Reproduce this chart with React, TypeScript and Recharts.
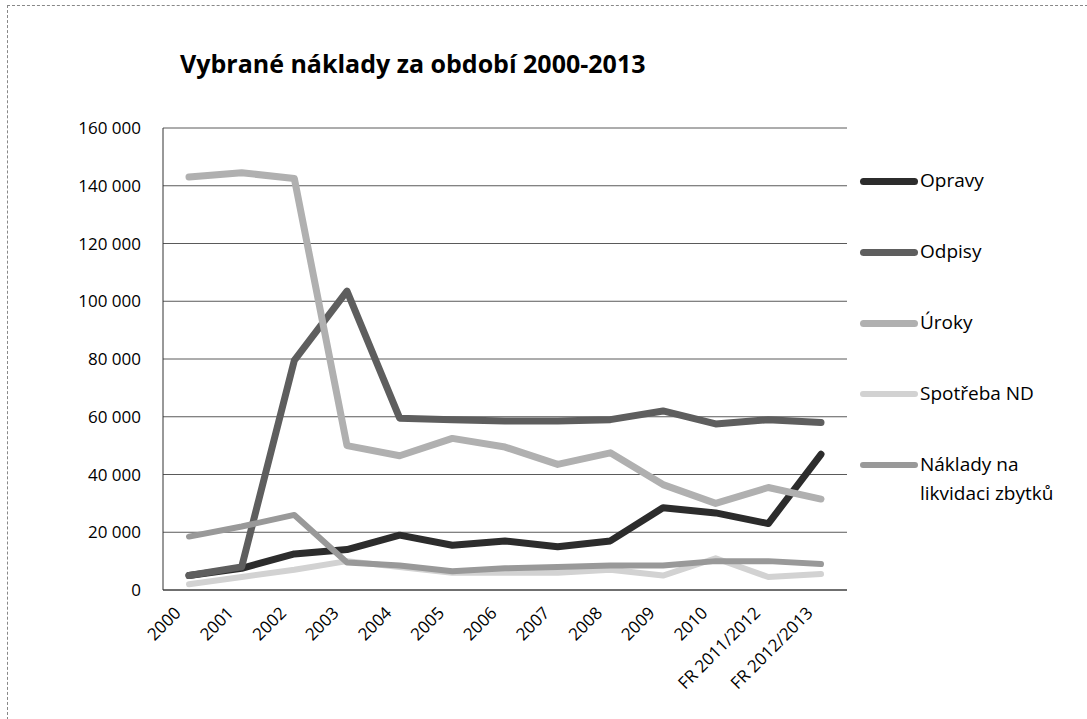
import { LineChart, Line, XAxis, YAxis, CartesianGrid, Legend } from "recharts";

const categories = [
  "2000", "2001", "2002", "2003", "2004", "2005", "2006",
  "2007", "2008", "2009", "2010", "FR 2011/2012", "FR 2012/2013",
];

// hodnoty
const opravy = [5000, 7500, 12500, 14000, 19000, 15500, 17000, 15000, 17000, 28500, 26700, 23000, 47000];
const odpisy = [5000, 8000, 79500, 103500, 59500, 59000, 58500, 58500, 59000, 62000, 57500, 59000, 58000];
const uroky = [143000, 144500, 142500, 50000, 46500, 52500, 49500, 43500, 47500, 36500, 30000, 35500, 31500];
const spotrebaND = [2000, 4500, 7000, 10000, 8000, 6000, 6000, 6000, 7000, 5000, 11000, 4500, 5500];
const nakladyLikvidace = [18500, 22000, 26000, 9500, 8500, 6500, 7500, 8000, 8500, 8500, 10000, 10000, 9000];

const yTicks = [0, 20000, 40000, 60000, 80000, 100000, 120000, 140000, 160000];

const series = [
  { key: "opravy", name: "Opravy", color: "#2c2c2c", width: 7 },
  { key: "odpisy", name: "Odpisy", color: "#5e5e5e", width: 7 },
  { key: "uroky", name: "Úroky", color: "#b0b0b0", width: 7 },
  { key: "spotreba", name: "Spotřeba ND", color: "#d2d2d2", width: 6 },
  { key: "naklady", name: "Náklady na likvidaci zbytků", color: "#999999", width: 6 },
];

const data = categories.map((name, i) => ({
  name,
  opravy: opravy[i],
  odpisy: odpisy[i],
  uroky: uroky[i],
  spotreba: spotrebaND[i],
  naklady: nakladyLikvidace[i],
}));

const font = "'Open Sans', sans-serif";

const formatThousands = (v: number) =>
  String(v).replace(/\B(?=(\d{3})+(?!\d))/g, " ");

const XTick = (props: any) => {
  const { x, y, payload } = props;
  return (
    <g transform={`translate(${x - 7},${y + 24})`}>
      <text x={0} y={0} textAnchor="end" transform="rotate(-45)" fontSize={17} fill="#000" fontFamily={font}>
        {payload.value}
      </text>
    </g>
  );
};

const renderLegend = (props: any) => {
  const payload: any[] = props.payload || [];
  return (
    <div style={{ fontFamily: font, fontSize: 19, color: "#000" }}>
      {series.map((s) => {
        const entry = payload.find((p) => p.value === s.name);
        return (
          <div key={s.key} style={{ display: "flex", alignItems: "flex-start", height: 71 }}>
            <div
              style={{
                width: 58,
                height: s.width,
                marginTop: 15 - s.width / 2,
                background: entry ? entry.color : s.color,
                borderRadius: 4,
                flex: "none",
              }}
            />
            <div style={{ width: 160, lineHeight: "29px", paddingLeft: 2 }}>{s.name}</div>
          </div>
        );
      })}
    </div>
  );
};

export default function App() {
  return (
    <div style={{ position: "absolute", left: 0, top: 0, width: 1087, height: 719, background: "#fff" }}>
      <div
        style={{
          position: "absolute",
          left: 7,
          top: 5,
          width: 1080,
          height: 714,
          borderTop: "1px dashed #888",
          borderLeft: "1px dashed #888",
        }}
      />
      <div
        style={{
          position: "absolute",
          left: 180,
          top: 46,
          fontFamily: font,
          fontWeight: 700,
          fontSize: 25,
          color: "#000",
          whiteSpace: "nowrap",
        }}
      >
        Vybrané náklady za období 2000-2013
      </div>
      <div style={{ position: "absolute", left: 0, top: 0 }}>
        <LineChart
          width={1087}
          height={719}
          data={data}
          margin={{ top: 128, right: 240, bottom: 29, left: 103 }}
        >
          <CartesianGrid vertical={false} stroke="#5a5a5a" strokeWidth={1} />
          <XAxis
            dataKey="name"
            height={100}
            interval={0}
            padding={{ left: 26, right: 26 }}
            tickLine={false}
            tickSize={0}
            tickMargin={0}
            axisLine={{ stroke: "#333" }}
            tick={<XTick />}
          />
          <YAxis
            width={60}
            domain={[0, 160000]}
            ticks={yTicks}
            tickFormatter={formatThousands}
            tickLine={false}
            tickSize={0}
            tickMargin={22}
            axisLine={{ stroke: "#333" }}
            tick={{ fontSize: 17, fill: "#000", fontFamily: font }}
          />
          <Legend
            layout="vertical"
            align="center"
            verticalAlign="middle"
            wrapperStyle={{ left: 860, top: 166, width: 227 }}
            content={renderLegend}
          />
          {series.map((s) => (
            <Line
              key={s.key}
              type="linear"
              dataKey={s.key}
              name={s.name}
              stroke={s.color}
              strokeWidth={s.width}
              strokeLinejoin="round"
              strokeLinecap="round"
              dot={false}
              activeDot={false}
              isAnimationActive={false}
            />
          ))}
        </LineChart>
      </div>
    </div>
  );
}
